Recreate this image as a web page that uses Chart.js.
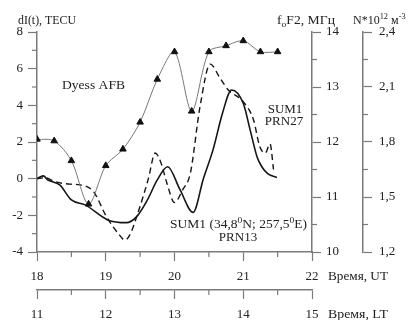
<!DOCTYPE html>
<html>
<head>
<meta charset="utf-8">
<script src="https://cdn.jsdelivr.net/npm/chart.js@4.4.0/dist/chart.umd.min.js"></script>
<style>
  html, body { margin: 0; padding: 0; background: #fff; }
</style>
</head>
<body>
<canvas id="chart" width="414" height="320"></canvas>
<script>
// Data
// foF2 (Dyess AFB), MHz, every 15 min UT
const fof2Times = [18, 18.25, 18.5, 18.75, 19, 19.25, 19.5, 19.75, 20, 20.25, 20.5, 20.75, 21, 21.25, 21.5];
const fof2Values = [12.05, 12.02, 11.66, 10.87, 11.57, 11.87, 12.36, 13.14, 13.64, 12.56, 13.64, 13.75, 13.84, 13.64, 13.64];

// dI(t), TECU - SUM1 PRN13 (solid)
const prn13Times = [18, 18.09, 18.16, 18.33, 18.5, 18.7, 19.03, 19.3, 19.45, 19.6, 19.75, 19.9, 20.08, 20.27, 20.42, 20.56, 20.7, 20.83, 21.0, 21.1, 21.2, 21.27, 21.36, 21.49];
const prn13Values = [0, 0.15, -0.07, -0.34, -1.16, -1.43, -2.25, -2.4, -2.07, -1.2, -0.07, 0.65, -0.6, -1.84, 0, 1.57, 3.6, 4.84, 4.11, 2.66, 1.2, 0.65, 0.26, 0.07];

// dI(t), TECU - SUM1 PRN27 (dashed)
const prn27Times = [18, 18.12, 18.26, 18.48, 18.63, 18.82, 19.01, 19.18, 19.28, 19.36, 19.45, 19.55, 19.62, 19.72, 19.8, 19.89, 20.0, 20.12, 20.23, 20.37, 20.52, 20.66, 20.78, 21.0, 21.15, 21.24, 21.32, 21.39, 21.44];
const prn27Values = [0, 0.05, -0.16, -0.3, -0.34, -0.7, -2.07, -2.98, -3.35, -3.0, -2.07, -0.9, 0.0, 1.4, 0.9, -0.25, -1.3, -0.6, 0.29, 3.9, 6.25, 5.5, 4.85, 4.2, 3.2, 1.75, 1.4, 1.9, 0.5];

// Axis ranges
const utRange = [18, 22];
const ltRange = [11, 15];
const tecRange = [-4, 8];
const fof2Range = [10, 14];
const nRange = [1.2, 2.4];

const axisColor = "#7a7a7a";
const textColor = "#222";
const serif = '"Liberation Serif", "Times New Roman", serif';

function near(v, step) {
  const r = v / step;
  return Math.abs(r - Math.round(r)) < 1e-6;
}
const isMajor = {
  x: v => near(v, 1),
  x2: v => near(v, 1),
  y: v => near(v, 2),
  y2: v => near(v, 1),
  y3: v => near(v, 0.3)
};

function toPoints(xs, ys) {
  return xs.map((x, i) => ({ x, y: ys[i] }));
}

// text with sub/superscript runs
function drawRuns(ctx, x, y, runs, size) {
  for (const [t, mode] of runs) {
    const fs = mode ? size * 0.7 : size;
    ctx.font = fs + "px " + serif;
    const dy = mode === "sup" ? -size * 0.38 : mode === "sub" ? size * 0.22 : 0;
    ctx.fillText(t, x, y + dy);
    x += ctx.measureText(t).width;
  }
}
function runsWidth(ctx, runs, size) {
  let w = 0;
  for (const [t, mode] of runs) {
    ctx.font = (mode ? size * 0.7 : size) + "px " + serif;
    w += ctx.measureText(t).width;
  }
  return w;
}
// stretch/squeeze a label to span exactly the given width
function drawFitted(ctx, x, y, runs, size, width) {
  const w = runsWidth(ctx, runs, size);
  ctx.save();
  ctx.translate(x, y);
  ctx.scale(width / w, 1);
  drawRuns(ctx, 0, 0, runs, size);
  ctx.restore();
}

// minor ticks (shorter) + free texts
const decorations = {
  id: "decorations",
  afterDraw(chart) {
    const ctx = chart.ctx;
    ctx.save();
    ctx.strokeStyle = axisColor;
    ctx.lineWidth = 1.2;
    for (const id of ["x", "x2", "y", "y2", "y3"]) {
      const s = chart.scales[id];
      s.ticks.forEach(t => {
        if (isMajor[id](t.value)) return;
        const p = s.getPixelForValue(t.value);
        ctx.beginPath();
        if (id === "y") { ctx.moveTo(s.right - 5, p); ctx.lineTo(s.right, p); }
        else if (id === "y2" || id === "y3") { ctx.moveTo(s.left, p); ctx.lineTo(s.left + 5, p); }
        else { ctx.moveTo(p, s.top); ctx.lineTo(p, s.top + 5); }
        ctx.stroke();
      });
    }

    ctx.fillStyle = textColor;
    ctx.textBaseline = "alphabetic";
    ctx.textAlign = "left";
    drawFitted(ctx, 18, 24, [["dI(t), TECU", ""]], 12, 58);
    drawFitted(ctx, 277, 24, [["f", ""], ["o", "sub"], ["F2, МГц", ""]], 12, 58);
    drawRuns(ctx, 353, 24, [["N*10", ""], ["12", "sup"], [" м", ""], ["-3", "sup"]], 12);
    drawFitted(ctx, 62, 89, [["Dyess AFB", ""]], 13, 63);

    const center = (runs, cx, y, size) => {
      const w = runsWidth(ctx, runs, size);
      drawRuns(ctx, cx - w / 2, y, runs, size);
    };
    center([["SUM1", ""]], 285, 113, 13);
    center([["PRN27", ""]], 284, 125, 13);
    drawFitted(ctx, 170, 228, [["SUM1 (34,8", ""], ["0", "sup"], ["N; 257,5", ""], ["0", "sup"], ["E)", ""]], 13, 137);
    center([["PRN13", ""]], 238, 241, 13);
    drawFitted(ctx, 328, 280, [["Время, UT", ""]], 13, 60);
    drawFitted(ctx, 328, 318, [["Время, LT", ""]], 13, 60);
    ctx.restore();
  }
};

const tickFont = { family: serif, size: 13 };

function axisBase(id, extra) {
  return Object.assign({
    type: "linear",
    border: { display: true, color: axisColor, width: 1.5 },
    grid: {
      drawOnChartArea: false,
      drawTicks: true,
      tickLength: 9,
      tickWidth: 1.2,
      tickColor: c => (c.tick && isMajor[id](c.tick.value)) ? axisColor : "rgba(0,0,0,0)"
    }
  }, extra);
}

new Chart(document.getElementById("chart").getContext("2d"), {
  type: "line",
  data: {
    datasets: [
      {
        label: "foF2 Dyess AFB",
        data: toPoints(fof2Times, fof2Values),
        xAxisID: "x",
        yAxisID: "y2",
        borderColor: "#777",
        borderWidth: 1,
        tension: 0.3,
        pointStyle: "triangle",
        pointRadius: 3.8,
        pointBackgroundColor: "#111",
        pointBorderColor: "#111",
        pointBorderWidth: 1
      },
      {
        label: "SUM1 PRN13",
        data: toPoints(prn13Times, prn13Values),
        xAxisID: "x",
        yAxisID: "y",
        borderColor: "#151515",
        borderWidth: 1.6,
        pointRadius: 0,
        cubicInterpolationMode: "monotone"
      },
      {
        label: "SUM1 PRN27",
        data: toPoints(prn27Times, prn27Values),
        xAxisID: "x",
        yAxisID: "y",
        borderColor: "#151515",
        borderWidth: 1.4,
        borderDash: [6, 4],
        pointRadius: 0,
        cubicInterpolationMode: "monotone"
      }
    ]
  },
  options: {
    responsive: false,
    animation: false,
    layout: { padding: { top: 32, left: 0, right: 0, bottom: 0 } },
    plugins: { legend: { display: false }, tooltip: { enabled: false } },
    scales: {
      x: axisBase("x", {
        position: "bottom", weight: 0,
        min: utRange[0], max: utRange[1],
        ticks: { stepSize: 0.5, autoSkip: false, maxRotation: 0, padding: 8, color: textColor, font: tickFont,
          callback: v => near(v, 1) ? String(v) : "" },
        afterFit: s => { s.height = 38; }
      }),
      x2: axisBase("x2", {
        position: "bottom", weight: 1,
        min: ltRange[0], max: ltRange[1],
        ticks: { stepSize: 0.5, autoSkip: false, maxRotation: 0, padding: 8, color: textColor, font: tickFont,
          callback: v => near(v, 1) ? String(v) : "" },
        afterFit: s => { s.height = 30; }
      }),
      y: axisBase("y", {
        position: "left",
        min: tecRange[0], max: tecRange[1],
        ticks: { stepSize: 1, autoSkip: false, padding: 5, color: textColor, font: tickFont,
          callback: v => near(v, 2) ? String(v) : "" },
        afterFit: s => { s.width = 37; }
      }),
      y2: axisBase("y2", {
        position: "right", weight: 0,
        min: fof2Range[0], max: fof2Range[1],
        ticks: { stepSize: 0.5, autoSkip: false, padding: 5, color: textColor, font: tickFont,
          callback: v => near(v, 1) ? String(v) : "" },
        afterFit: s => { s.width = 51; }
      }),
      y3: axisBase("y3", {
        position: "right", weight: 1,
        min: nRange[0], max: nRange[1],
        ticks: { stepSize: 0.15, autoSkip: false, padding: 7, color: textColor, font: tickFont,
          callback: v => near(v, 0.3) ? v.toFixed(1).replace(".", ",") : "" },
        afterFit: s => { s.width = 51; }
      })
    }
  },
  plugins: [decorations]
});
</script>
</body>
</html>
